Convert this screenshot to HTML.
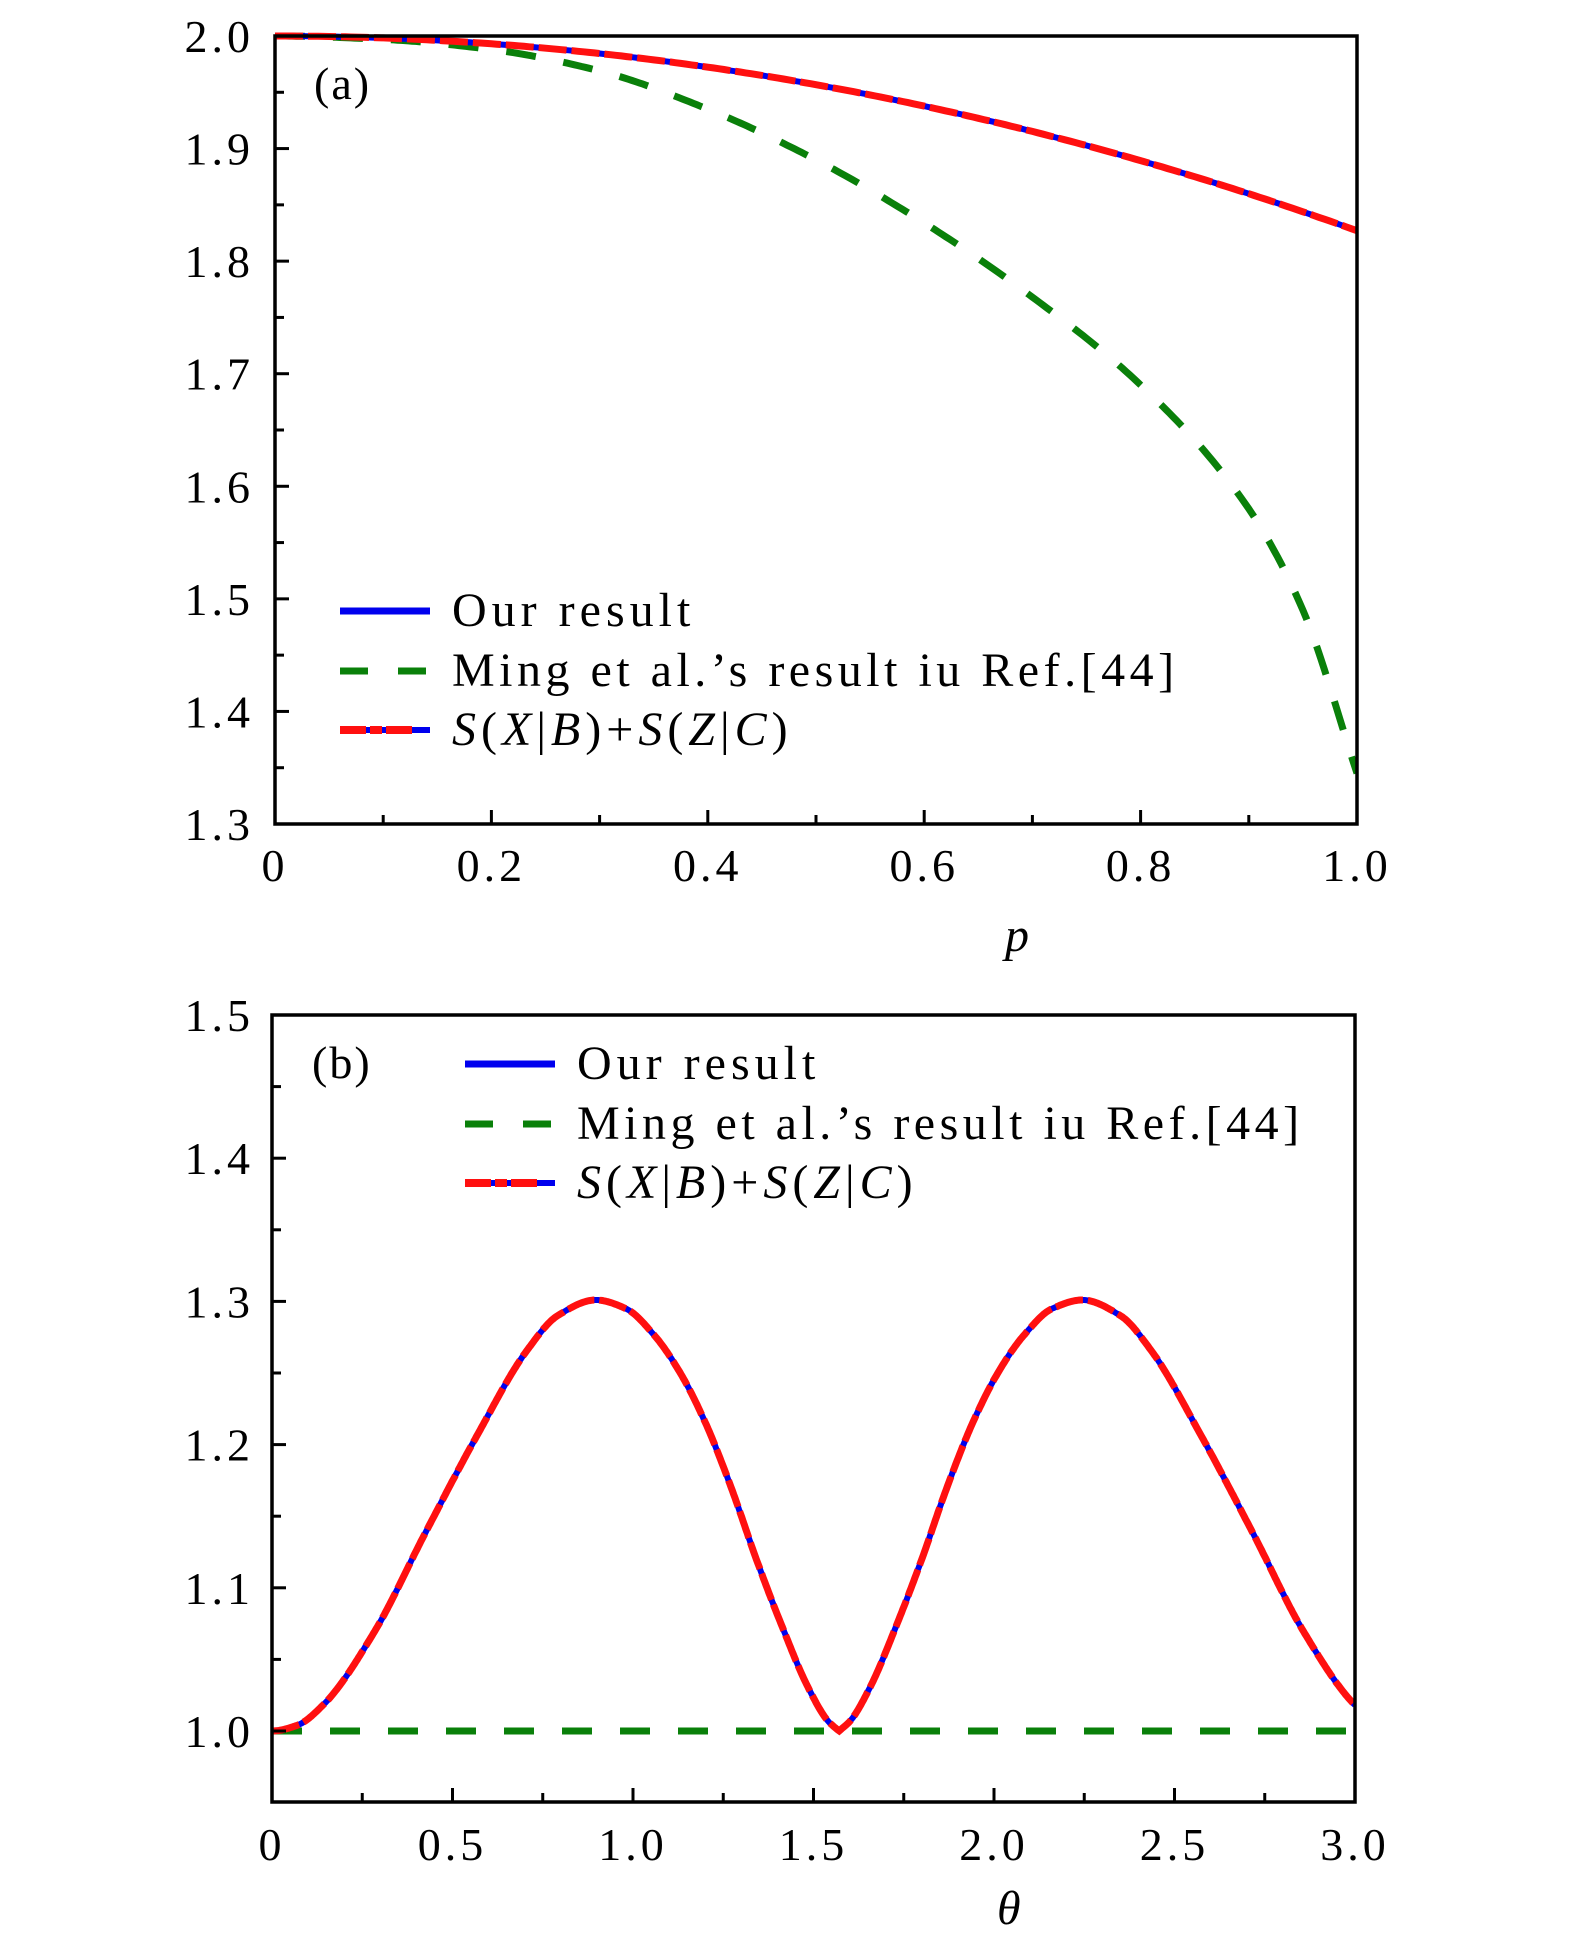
<!DOCTYPE html>
<html><head><meta charset="utf-8"><style>
html,body{margin:0;padding:0;background:#fff;}
svg text{font-family:"Liberation Serif",serif;fill:#000;}
</style></head><body>
<svg id="s" width="1575" height="1949" viewBox="0 0 1575 1949" xmlns="http://www.w3.org/2000/svg"></svg>
<script>
const S=document.getElementById('s');let h='';
function pchip(pts,m0){const n=pts.length,x=pts.map(p=>p[0]),y=pts.map(p=>p[1]);const d=[],m=[];
 for(let i=0;i<n-1;i++)d.push((y[i+1]-y[i])/(x[i+1]-x[i]));
 m[0]=(m0!==undefined)?m0:d[0];m[n-1]=d[n-2];
 for(let i=1;i<n-1;i++){if(d[i-1]*d[i]<=0)m[i]=0;else{const w1=2*(x[i+1]-x[i])+(x[i]-x[i-1]),w2=(x[i+1]-x[i])+2*(x[i]-x[i-1]);m[i]=(w1+w2)/(w1/d[i-1]+w2/d[i]);}}
 return v=>{let i=0;while(i<n-2&&v>x[i+1])i++;const hh=x[i+1]-x[i],t=(v-x[i])/hh;
  const h00=2*t*t*t-3*t*t+1,h10=t*t*t-2*t*t+t,h01=-2*t*t*t+3*t*t,h11=t*t*t-t*t;
  return h00*y[i]+h10*hh*m[i]+h01*y[i+1]+h11*hh*m[i+1];};}
function path(f,x0,x1,X,Y,n){let d='';for(let i=0;i<=n;i++){const x=x0+(x1-x0)*i/n;d+=(i?'L':'M')+X(x).toFixed(1)+','+Y(f(x)).toFixed(1);}return d;}
function axes(L,T,R,B,xt,xm,yt,ym,X,Y,xl,yl,xlabY){
 h+=`<rect x="${L}" y="${T}" width="${R-L}" height="${B-T}" fill="none" stroke="#000" stroke-width="3.5"/>`;
 xt.forEach(v=>{h+=`<line x1="${X(v)}" y1="${B}" x2="${X(v)}" y2="${B-14}" stroke="#000" stroke-width="3"/>`;});
 xm.forEach(v=>{h+=`<line x1="${X(v)}" y1="${B}" x2="${X(v)}" y2="${B-9}" stroke="#000" stroke-width="3"/>`;});
 yt.forEach(v=>{h+=`<line x1="${L}" y1="${Y(v)}" x2="${L+14}" y2="${Y(v)}" stroke="#000" stroke-width="3"/>`;});
 ym.forEach(v=>{h+=`<line x1="${L}" y1="${Y(v)}" x2="${L+9}" y2="${Y(v)}" stroke="#000" stroke-width="3"/>`;});
 xt.forEach((v,i)=>{h+=`<text x="${X(v)}" y="${xlabY}" font-size="46" text-anchor="middle" letter-spacing="4">${xl[i]}</text>`;});
 yt.forEach((v,i)=>{h+=`<text x="254" y="${Y(v)+16}" font-size="46" text-anchor="end" letter-spacing="4">${yl[i]}</text>`;});
}
function curves(dMain,dGreen){
 h+=`<path d="${dGreen}" fill="none" stroke="#0a800a" stroke-width="7" stroke-dasharray="30 28"/>`;
 h+=`<path d="${dMain}" fill="none" stroke="#0000ee" stroke-width="6"/>`;
 h+=`<path d="${dMain}" fill="none" stroke="#ff1010" stroke-width="7" stroke-dasharray="28 5"/>`;
}
function legend(x,y){
 const ys=[y,y+60,y+119];
 h+=`<line x1="${x}" y1="${ys[0]}" x2="${x+90}" y2="${ys[0]}" stroke="#0000ee" stroke-width="7"/>`;
 h+=`<line x1="${x}" y1="${ys[1]}" x2="${x+90}" y2="${ys[1]}" stroke="#0a800a" stroke-width="7" stroke-dasharray="28 30"/>`;
 h+=`<line x1="${x}" y1="${ys[2]}" x2="${x+90}" y2="${ys[2]}" stroke="#0000ee" stroke-width="6"/>`;
 h+=`<line x1="${x}" y1="${ys[2]}" x2="${x+90}" y2="${ys[2]}" stroke="#ff1010" stroke-width="8" stroke-dasharray="26 4 12 4 26"/>`;
 const tx=x+112;
 h+=`<text x="${tx}" y="${ys[0]+15}" font-size="48" letter-spacing="5">Our result</text>`;
 h+=`<text x="${tx}" y="${ys[1]+15}" font-size="48" letter-spacing="4.5">Ming et al.’s result iu Ref.[44]</text>`;
 h+=`<text x="${tx}" y="${ys[2]+15}" font-size="48" letter-spacing="5"><tspan font-style="italic">S</tspan>(<tspan font-style="italic">X</tspan>|<tspan font-style="italic">B</tspan>)+<tspan font-style="italic">S</tspan>(<tspan font-style="italic">Z</tspan>|<tspan font-style="italic">C</tspan>)</text>`;
}
// Panel a
{const L=275,T=36,R=1357,B=824;const X=v=>L+(R-L)*v,Y=v=>T+(2.0-v)/0.7*(B-T);
 const g=pchip([[0,0],[0.1,0.003],[0.2,0.012],[0.3,0.031],[0.4,0.065],[0.5,0.11],[0.6,0.166],[0.7,0.232],[0.8,0.31],[0.9,0.42],[0.95,0.51],[1,0.655]],0);
 h+=`<clipPath id="ca"><rect x="${L}" y="${T-4}" width="${R-L}" height="${B-T}"/></clipPath><g clip-path="url(#ca)">`;
 curves(path(p=>2-0.173*p*p,0,1,X,Y,200),path(p=>2-g(p),0,1,X,Y,300));
 h+=`</g>`;
 axes(L,T,R,B,[0,0.2,0.4,0.6,0.8,1],[0.1,0.3,0.5,0.7,0.9],[2,1.9,1.8,1.7,1.6,1.5,1.4,1.3],[1.95,1.85,1.75,1.65,1.55,1.45,1.35],X,Y,['0','0.2','0.4','0.6','0.8','1.0'],['2.0','1.9','1.8','1.7','1.6','1.5','1.4','1.3'],881);
 h+=`<text x="314" y="99" font-size="46" letter-spacing="2">(a)</text>`;
 h+=`<text x="1005" y="951" font-size="48" font-style="italic">p</text>`;
 legend(340,611);
}
// Panel b
{const L=272,T=1015,R=1355,B=1802;const X=v=>L+(R-L)*v/3,Y=v=>1731-(v-1.0)*1432;
 const g=pchip([[0,1.0],[0.07,1.004],[0.141,1.018],[0.283,1.069],[0.424,1.138],[0.565,1.205],[0.707,1.266],[0.791,1.29],[0.897,1.301],[0.98,1.295],[1.06,1.276],[1.131,1.25],[1.201,1.215],[1.272,1.17],[1.343,1.119],[1.413,1.073],[1.484,1.031],[1.54,1.007],[1.5708,1.0]],0);
 const f=t=>{const u=t<=Math.PI/2?t:Math.PI-t;return g(u);};
 h+=`<clipPath id="cb"><rect x="${L}" y="${T}" width="${R-L}" height="${B-T}"/></clipPath><g clip-path="url(#cb)">`;
 curves(path(f,0,3,X,Y,800),`M${L},${Y(1)}L${R},${Y(1)}`);
 h+=`</g>`;
 axes(L,T,R,B,[0,0.5,1,1.5,2,2.5,3],[0.25,0.75,1.25,1.75,2.25,2.75],[1.5,1.4,1.3,1.2,1.1,1.0],[1.45,1.35,1.25,1.15,1.05],X,Y,['0','0.5','1.0','1.5','2.0','2.5','3.0'],['1.5','1.4','1.3','1.2','1.1','1.0'],1860);
 h+=`<text x="312" y="1078" font-size="46" letter-spacing="2">(b)</text>`;
 h+=`<text x="997" y="1924" font-size="48" font-style="italic">θ</text>`;
 legend(465,1064);
}
S.innerHTML=h;
</script>
</body></html>
